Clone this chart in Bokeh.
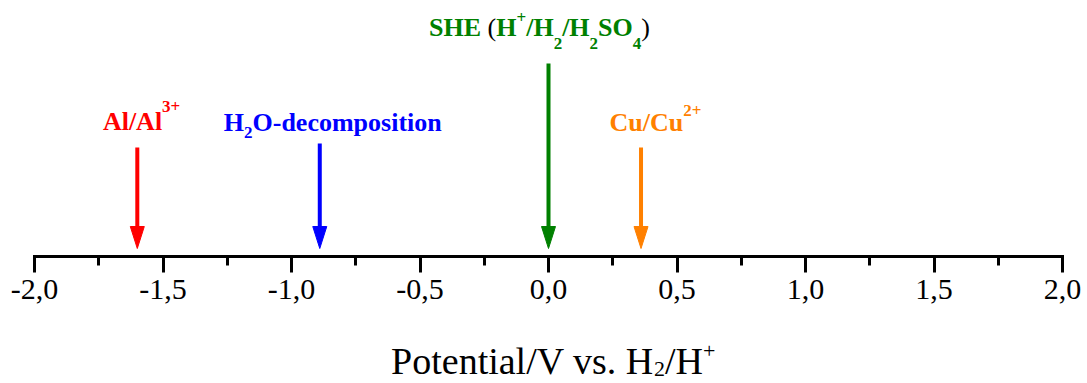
from bokeh.plotting import figure
from bokeh.layouts import column
from bokeh.models import Range1d, FixedTicker, Label
from bokeh.embed import file_html
from bokeh.resources import INLINE

# ---------------- data ----------------
couples = ["Al/Al3+", "H2O-decomposition", "SHE (H+/H2/H2SO4)", "Cu/Cu2+"]
potentials = [-1.60, -0.89, 0.00, 0.36]
colors = ["#ff0000", "#0000ff", "#008000", "#ff8000"]
tick_values = [-2.0, -1.5, -1.0, -0.5, 0.0, 0.5, 1.0, 1.5, 2.0]
tick_labels = ["-2,0", "-1,5", "-1,0", "-0,5", "0,0", "0,5", "1,0", "1,5", "2,0"]
minor_tick_values = [-1.75, -1.25, -0.75, -0.25, 0.25, 0.75, 1.25, 1.75]

# rich-text pieces of each couple label (n = normal, sup, sub, paren = black regular)
label_segments = [
    [("Al/Al", "n"), ("3+", "sup")],
    [("H", "n"), ("2", "sub"), ("O-decomposition", "n")],
    [("SHE", "n"), (" (", "paren"), ("H", "n"), ("+", "sup"), ("/H", "n"), ("2", "sub"),
     ("/H", "n"), ("2", "sub"), ("SO", "n"), ("4", "sub"), (")", "paren")],
    [("Cu/Cu", "n"), ("2+", "sup")],
]
title_segments = [("Potential/V vs. H", "n"), ("2", "sub"), ("/H", "n"), ("+", "sup")]

# ---------------- style / layout ----------------
W = 1087
LEFT, RIGHT = 34, 25
TOP_H, FRAME_H, BELOW_H = 318, 256, 62      # main figure; 1 y-unit = 1 px, axis at y = 0
TITLE_H = 65
FONT = "Liberation Serif"
arrow_tip = 8
arrow_tops = [109, 113, 193, 109]
label_baselines = [125, 124.3, 218.7, 124.3]
label_shift_px = [4.3, 13, -9, 14.5]
label_sup_raise = [16, 0, 12, 13.5]
label_sub_drop = [0, 9, 14, 0]
head_len, head_half_w, shaft_w = 22, 7, 4
lbl_size, small_size = 26, 17
title_size, title_small, title_sup_raise, title_sub_drop = 38, 22, 13, 5
title_baseline, title_shift_px = 10.7, 4.7

BOLD = {'A': 722, 'l': 278, '/': 278, '3': 500, '+': 570, 'H': 778, '2': 500, 'O': 778,
        '-': 333, 'd': 556, 'e': 444, 'c': 444, 'o': 500, 'm': 833, 'p': 556, 's': 389,
        'i': 278, 't': 333, 'n': 556, 'S': 556, 'E': 667, '4': 500, 'C': 722, 'u': 556,
        ' ': 250, '(': 333, ')': 333}
REG = {'P': 556, 'o': 500, 't': 278, 'e': 444, 'n': 500, 'i': 278, 'a': 444, 'l': 278,
       '/': 278, 'V': 722, ' ': 250, 'v': 500, 's': 389, '.': 250, 'H': 722, '2': 500,
       '+': 564, '(': 333, ')': 333}


def width(text, table, size):
    return sum(table.get(ch, 500) for ch in text) * size / 1000.0


def baseline_fix(size):
    # Label places alphabetic baseline slightly low; lift it
    return 0.15 * size + 6


p = figure(width=W, height=TOP_H,
           x_range=Range1d(tick_values[0], tick_values[-1]), y_range=Range1d(0, FRAME_H),
           min_border_left=LEFT, min_border_right=RIGHT, min_border_top=0,
           min_border_bottom=BELOW_H,
           y_axis_location=None, toolbar_location=None, output_backend="svg")
p.outline_line_color = None
p.grid.visible = False
p.background_fill_color = "white"
p.border_fill_color = "white"

ax = p.xaxis[0]
ax.ticker = FixedTicker(ticks=tick_values, minor_ticks=minor_tick_values)
ax.major_label_overrides = {v: s for v, s in zip(tick_values, tick_labels)}
ax.axis_line_width = 3
ax.axis_line_color = "black"
ax.axis_line_cap = "square"
ax.major_tick_line_width = 3
ax.minor_tick_line_width = 3
ax.major_tick_in = 0
ax.major_tick_out = 16
ax.minor_tick_in = 0
ax.minor_tick_out = 9
ax.major_label_text_font = FONT
ax.major_label_text_font_size = "30px"
ax.major_label_text_color = "black"
ax.major_label_standoff = 7

px_per_unit = (W - LEFT - RIGHT) / (tick_values[-1] - tick_values[0])
hw = head_half_w / px_per_unit

# arrows: shafts and heads
p.segment(x0=potentials, y0=arrow_tops, x1=potentials, y1=[arrow_tip + head_len - 2] * len(potentials),
          line_color=colors, line_width=shaft_w)
p.patches(xs=[[x - hw, x + hw, x] for x in potentials],
          ys=[[arrow_tip + head_len, arrow_tip + head_len, arrow_tip] for _ in potentials],
          fill_color=colors, line_color=colors, line_width=1)


def place(fig, x, segs, infos, base, start, raise_px, drop_px, colour_of):
    cur = start
    for (t, k), (tb, sz, fs, lvl) in zip(segs, infos):
        lead = len(t) - len(t.lstrip(" "))
        cur += width(" " * lead, tb, sz)
        t2 = t.strip(" ")
        y = base + (raise_px if lvl > 0 else (-drop_px if lvl < 0 else 0)) + baseline_fix(sz)
        fig.add_layout(Label(x=x, y=y, x_offset=cur, text=t2, text_align="left",
                             text_baseline="alphabetic", text_font=FONT,
                             text_font_size=f"{sz}px", text_font_style=fs,
                             text_color=colour_of(k)))
        cur += width(t2, tb, sz)


def seg_info(kind):
    if kind == "sup":
        return BOLD, small_size, "bold", +1
    if kind == "sub":
        return BOLD, small_size, "bold", -1
    if kind == "paren":
        return REG, lbl_size, "normal", 0
    return BOLD, lbl_size, "bold", 0


# couple labels
for i, (x, segs, col) in enumerate(zip(potentials, label_segments, colors)):
    infos = [seg_info(k) for _, k in segs]
    total = sum(width(t, tb, sz) for (t, _), (tb, sz, _, _) in zip(segs, infos))
    place(p, x, segs, infos, label_baselines[i], label_shift_px[i] - total / 2.0,
          label_sup_raise[i], label_sub_drop[i],
          lambda k, c=col: "black" if k == "paren" else c)

# axis title (with sub/superscripts) in a strip below the axis
pt = figure(width=W, height=TITLE_H,
            x_range=Range1d(tick_values[0], tick_values[-1]), y_range=Range1d(0, TITLE_H),
            min_border_left=LEFT, min_border_right=RIGHT, min_border_top=0, min_border_bottom=0,
            x_axis_location=None, y_axis_location=None, toolbar_location=None,
            output_backend="svg")
pt.outline_line_color = None
pt.grid.visible = False
pt.background_fill_color = "white"
pt.border_fill_color = "white"

t_infos = [(REG, title_size if k == "n" else title_small, "normal",
            1 if k == "sup" else (-1 if k == "sub" else 0)) for _, k in title_segments]
t_total = sum(width(t, tb, sz) for (t, _), (tb, sz, _, _) in zip(title_segments, t_infos))
place(pt, 0.0, title_segments, t_infos, title_baseline, title_shift_px - t_total / 2.0,
      title_sup_raise, title_sub_drop, lambda k: "black")

layout = column(p, pt, spacing=0)
open("out.html", "w").write(file_html(layout, INLINE))
